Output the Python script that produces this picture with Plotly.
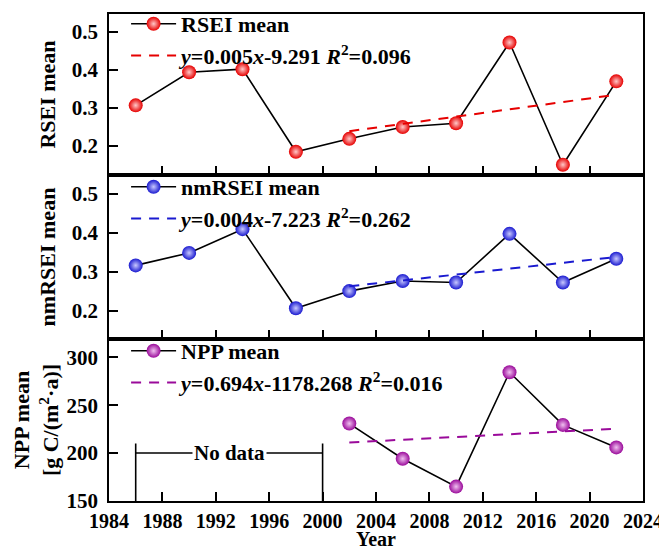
import numpy as np
import plotly.graph_objects as go
from plotly.subplots import make_subplots

# ---------------- data ----------------
years = [1986, 1990, 1994, 1998, 2002, 2006, 2010, 2014, 2018, 2022]
rsei_mean = [0.307, 0.394, 0.402, 0.185, 0.219, 0.250, 0.260, 0.472, 0.151, 0.370]
nmrsei_mean = [0.317, 0.349, 0.410, 0.207, 0.251, 0.277, 0.273, 0.398, 0.273, 0.334]
npp_years = [2002, 2006, 2010, 2014, 2018, 2022]
npp_mean = [230.8, 194.1, 165.0, 284.3, 229.4, 205.9]

trend_from = 2002  # trend lines fitted on 2002-2022
x_ticks = [1984, 1988, 1992, 1996, 2000, 2004, 2008, 2012, 2016, 2020, 2024]
rsei_ticks = [0.2, 0.3, 0.4, 0.5]
npp_ticks = [150, 200, 250, 300]

rsei_eq = "<i>y</i>=0.005<i>x</i>-9.291 <i>R</i><sup>2</sup>=0.096"
nmrsei_eq = "<i>y</i>=0.004<i>x</i>-7.223 <i>R</i><sup>2</sup>=0.262"
npp_eq = "<i>y</i>=0.694<i>x</i>-1178.268 <i>R</i><sup>2</sup>=0.016"

nodata_start, nodata_end = 1986, 2000
nodata_level, nodata_top = 200, 210

# ---------------- style ----------------
FAM = "Liberation Serif, Times New Roman, serif"
RED, BLUE, PURPLE = "#e60000", "#1a1ad0", "#9a0a9a"
PAGE = 8  # default body margin of the html page
W, H = 667 - PAGE, 552 - PAGE
ML, MR, MT, MB = 109 - PAGE, 24, 14 - PAGE, 51
PH = H - MT - MB


def trend(xs, ys):
    xs = np.asarray(xs, float)
    ys = np.asarray(ys, float)
    m = xs >= trend_from
    k, b = np.polyfit(xs[m], ys[m], 1)
    tx = np.array([xs[m].min(), xs[m].max()])
    return tx, k * tx + b


fig = make_subplots(rows=3, cols=1, shared_xaxes=True, vertical_spacing=0)

series = [
    (years, rsei_mean, RED, "#ffc8c8", "RSEI mean", rsei_eq, "legend"),
    (years, nmrsei_mean, BLUE, "#c8c8ff", "nmRSEI mean", nmrsei_eq, "legend2"),
    (npp_years, npp_mean, PURPLE, "#f0c0f0", "NPP mean", npp_eq, "legend3"),
]

for i, (xs, ys, col, hi, name, eq, lg) in enumerate(series, start=1):
    fig.add_trace(go.Scatter(
        x=xs, y=ys, mode="lines+markers", name=name, legend=lg,
        line=dict(color="black", width=1.6),
        marker=dict(size=14, color=col, line=dict(width=0),
                    gradient=dict(type="radial", color=hi)),
    ), row=i, col=1)
    tx, ty = trend(xs, ys)
    fig.add_trace(go.Scatter(
        x=tx, y=ty, mode="lines", name=eq, legend=lg,
        line=dict(color=col, width=2, dash="10px,8px"),
    ), row=i, col=1)

# No-data bracket in the NPP panel
for xv in (nodata_start, nodata_end):
    fig.add_shape(type="line", x0=xv, x1=xv, y0=150, y1=nodata_top,
                  xref="x3", yref="y3", line=dict(color="black", width=1.6))
fig.add_shape(type="line", x0=nodata_start, x1=nodata_end, y0=nodata_level,
              y1=nodata_level, xref="x3", yref="y3",
              line=dict(color="black", width=1.6))
fig.add_annotation(x=(nodata_start + nodata_end) / 2, y=nodata_level,
                   xref="x3", yref="y3", text="No data", showarrow=False,
                   bgcolor="white", borderpad=1,
                   font=dict(family=FAM, size=21, color="black", weight="bold"))

tickfont = dict(family=FAM, size=21, color="black", weight="bold")
titlefont = dict(family=FAM, size=22, color="black", weight="bold")

axis_common = dict(showline=True, linecolor="black", linewidth=1.6, mirror=True,
                   ticks="inside", ticklen=9, tickwidth=1.6, tickcolor="black",
                   showgrid=False, zeroline=False, tickfont=tickfont)

for r in (1, 2, 3):
    fig.update_xaxes(range=[1984, 2024], tickvals=x_ticks, row=r, col=1,
                     **axis_common)
fig.update_xaxes(showticklabels=False, row=1, col=1)
fig.update_xaxes(showticklabels=False, row=2, col=1)
fig.update_xaxes(showticklabels=True, ticklabelstandoff=1,
                 tickfont=dict(family=FAM, size=20, color="black", weight="bold"),
                 row=3, col=1)

# x-axis title placed explicitly so it is not clipped
fig.add_annotation(x=0.5, y=-(MB - 1) / PH, xref="paper", yref="paper",
                   text="Year", showarrow=False, yanchor="bottom", borderpad=0,
                   font=dict(family=FAM, size=20, color="black", weight="bold"))

d1, d2 = 0.3326, 0.6694
fig.update_yaxes(domain=[d2, 1.0], range=[0.124, 0.547], tickvals=rsei_ticks,
                 tickformat=".1f", ticklabelstandoff=5,
                 title=dict(text="RSEI mean", font=titlefont, standoff=10),
                 row=1, col=1, **axis_common)
fig.update_yaxes(domain=[d1, d2], range=[0.128, 0.549], tickvals=rsei_ticks,
                 tickformat=".1f", ticklabelstandoff=5,
                 title=dict(text="nmRSEI mean", font=titlefont, standoff=10),
                 row=2, col=1, **axis_common)
fig.update_yaxes(domain=[0.0, d1], range=[150, 319], tickvals=npp_ticks,
                 ticklabelstandoff=5,
                 title=dict(text="NPP mean<br>[g C/(m<sup>2</sup>·a)]", font=titlefont, standoff=2),
                 row=3, col=1, **axis_common)

legend_common = dict(x=0.032, xanchor="left", yanchor="top", bgcolor="rgba(0,0,0,0)",
                     borderwidth=0, font=dict(family=FAM, size=22, color="black", weight="bold"),
                     itemwidth=45, tracegroupgap=0)
fig.update_layout(
    legend=dict(y=1.0 + 11 / PH, **legend_common),
    legend2=dict(y=d2 + 9 / PH, **legend_common),
    legend3=dict(y=d1 + 9 / PH, **legend_common),
    width=W, height=H,
    margin=dict(l=ML, r=MR, t=MT, b=MB, autoexpand=False),
    paper_bgcolor="white", plot_bgcolor="white",
    showlegend=True,
)

fig.write_html("out.html")
